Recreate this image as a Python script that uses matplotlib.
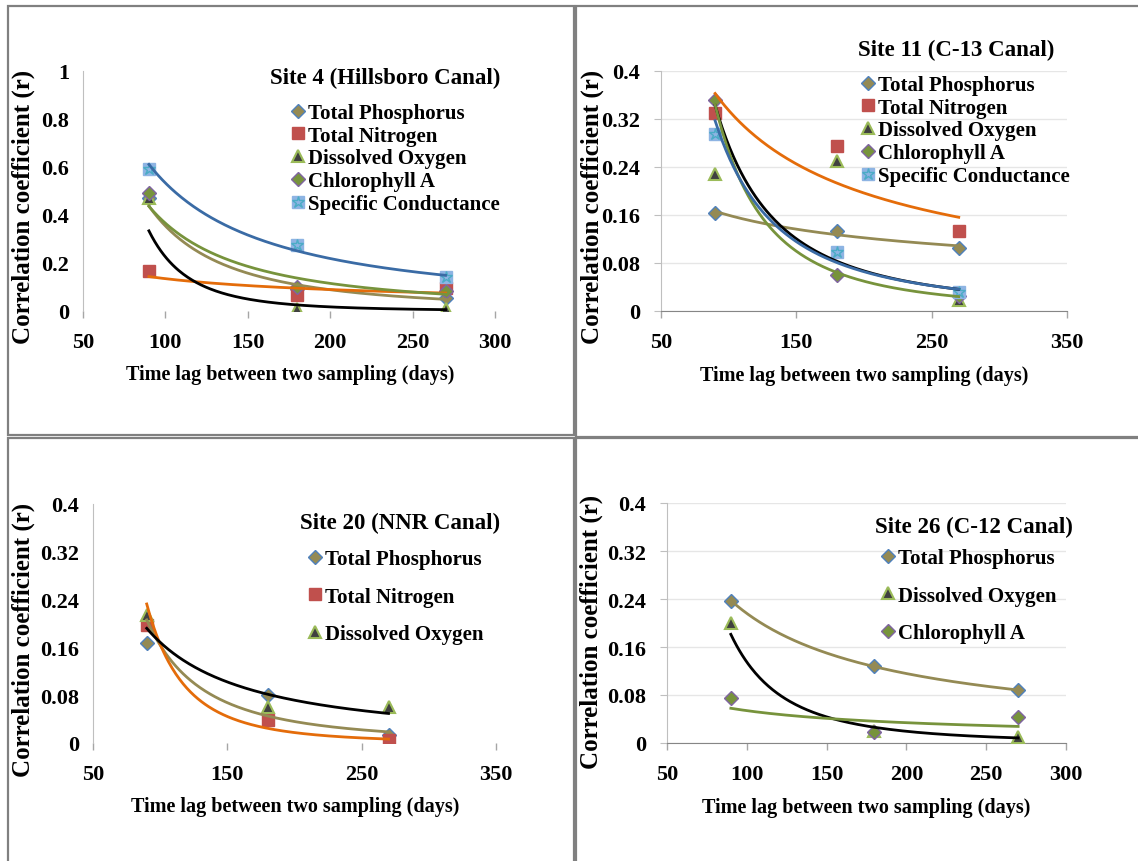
import matplotlib
matplotlib.use('Agg')
import matplotlib.pyplot as plt
import numpy as np
from matplotlib.lines import Line2D
from matplotlib.patches import Rectangle
from matplotlib.ticker import FuncFormatter

plt.rcParams['font.family'] = 'Liberation Serif'
plt.rcParams['font.weight'] = 'bold'
plt.rcParams['axes.labelweight'] = 'bold'

W, H = 1138, 862

# time lag (days)
lags = [90, 180, 270]

# Site 4 (Hillsboro Canal)
s4_tp = [0.47, 0.09, 0.055]
s4_tn = [0.165, 0.065, 0.095]
s4_do = [0.47, 0.01, 0.01]
s4_chl = [0.49, 0.10, 0.085]
s4_sc = [0.59, 0.275, 0.14]

# Site 11 (C-13 Canal)
s11_tp = [0.163, 0.134, 0.105]
s11_tn = [0.33, 0.275, 0.133]
s11_do = [0.228, 0.25, 0.018]
s11_chl = [0.352, 0.06, 0.025]
s11_sc = [0.295, 0.098, 0.032]

# Site 20 (NNR Canal)
s20_tp = [0.167, 0.08, 0.013]
s20_tn = [0.198, 0.038, 0.005]
s20_do = [0.215, 0.06, 0.06]

# Site 26 (C-12 Canal)
s26_tp = [0.237, 0.128, 0.088]
s26_do = [0.20, 0.02, 0.01]
s26_chl = [0.075, 0.018, 0.043]

names = {
    'tp': 'Total Phosphorus',
    'tn': 'Total Nitrogen',
    'do': 'Dissolved Oxygen',
    'chl': 'Chlorophyll A',
    'sc': 'Specific Conductance',
}

marker_style = {
    'tp': dict(marker='D', ms=7, mfc='#948A54', mec='#4F81BD', mew=1),
    'tn': dict(marker='s', ms=8.5, mfc='#C0504D', mec='#C0504D', mew=1),
    'do': dict(marker='^', ms=8.5, mfc='#404040', mec='#9BBB59', mew=1.5),
    'chl': dict(marker='D', ms=7, mfc='#77933C', mec='#8064A2', mew=1),
    'sc': dict(marker='s', ms=9, mfc='#8EB4E3', mec='#8EB4E3', mew=1),
}
trend_color = {
    'tp': '#948A54',
    'tn': '#E46C0A',
    'do': 'black',
    'chl': '#77933C',
    'sc': '#3A6BA5',
}


def px_rect(x0, x1, ytop, ybot):
    return [x0 / W, 1 - ybot / H, (x1 - x0) / W, (ybot - ytop) / H]


def handle(key):
    h = Line2D([], [], linestyle='none', **marker_style[key])
    if key == 'sc':
        star = Line2D([], [], linestyle='none', marker='*', ms=9,
                      mfc='none', mec='#4BACC6', mew=1)
        return (h, star)
    return h


def power_trend(x, y):
    # same as an Excel power trendline: linear fit in log-log space
    b, ln_a = np.polyfit(np.log(x), np.log(y), 1)
    xs = np.linspace(min(x), max(x), 200)
    return xs, np.exp(ln_a) * xs ** b


def draw_panel(rect, series, xlim, xticks, ymax, ystep, grid,
               title, title_xy, leg_xy, leg_space, ylab_xy, xlab_xy):
    ax = fig.add_axes(px_rect(*rect))
    for key, vals in series:
        ax.plot(lags, vals, linestyle='none', zorder=3, **marker_style[key])
        if key == 'sc':
            ax.plot(lags, vals, linestyle='none', marker='*', ms=9,
                    mfc='none', mec='#4BACC6', mew=1, zorder=3)
    for key, vals in series:
        xs, ys = power_trend(lags, vals)
        ax.plot(xs, ys, color=trend_color[key], lw=2, zorder=4)

    ax.set_xlim(*xlim)
    ax.set_xticks(xticks)
    ax.set_ylim(0, ymax)
    ax.set_yticks(np.arange(0, ymax + 1e-9, ystep))
    ax.yaxis.set_major_formatter(FuncFormatter(lambda v, p: f'{v:g}'))
    for s in ['top', 'right']:
        ax.spines[s].set_visible(False)
    ax.spines['left'].set_color('#BFBFBF')
    if grid:
        ax.spines['bottom'].set_color('#868686')
        ax.grid(axis='y', color='#E6E6E6', lw=1)
        ax.set_axisbelow(True)
        ax.tick_params(axis='y', length=5, color='#BFBFBF')
    else:
        ax.spines['bottom'].set_visible(False)
        ax.tick_params(axis='y', length=0)
    ax.tick_params(axis='x', length=5, color='#A6A6A6', width=1)
    ax.tick_params(labelsize=16, pad=10)

    ax.set_ylabel('Correlation coefficient (r)', fontsize=18)
    ax.yaxis.label.set_va('center')
    ax.yaxis.set_label_coords(ylab_xy[0] / W, 1 - ylab_xy[1] / H,
                              transform=fig.transFigure)
    ax.set_xlabel('Time lag between two sampling (days)', fontsize=14.5)
    ax.xaxis.label.set_va('center')
    ax.xaxis.set_label_coords(xlab_xy[0] / W, 1 - xlab_xy[1] / H,
                              transform=fig.transFigure)

    fig.text(title_xy[0] / W, 1 - title_xy[1] / H, title, fontsize=16.5,
             ha='right', va='center')
    keys = [k for k, _ in series]
    ax.legend([handle(k) for k in keys], [names[k] for k in keys],
              loc='upper left', frameon=False, fontsize=15,
              bbox_to_anchor=(leg_xy[0] / W, 1 - leg_xy[1] / H),
              bbox_transform=fig.transFigure, borderpad=0, borderaxespad=0,
              handlelength=0.6, handletextpad=0.15, labelspacing=leg_space)
    return ax


fig = plt.figure(figsize=(W / 100, H / 100), dpi=100)

# panel frames
for x0, y0, x1, y1 in [(8, 7, 574, 436), (576, 7, 1145, 438),
                       (8, 439, 574, 870), (576, 439, 1145, 870)]:
    fig.add_artist(Rectangle((x0 / W, 1 - y1 / H), (x1 - x0) / W, (y1 - y0) / H,
                             transform=fig.transFigure, fill=False,
                             edgecolor='#808080', lw=1.6))

draw_panel((83, 495, 72, 312),
           [('tp', s4_tp), ('tn', s4_tn), ('do', s4_do), ('chl', s4_chl), ('sc', s4_sc)],
           (50, 300), [50, 100, 150, 200, 250, 300], 1.0, 0.2, False,
           'Site 4 (Hillsboro Canal)', (500, 78), (292, 104), 0.13,
           (23, 207), (290, 375))

draw_panel((661, 1067, 72, 312),
           [('tp', s11_tp), ('tn', s11_tn), ('do', s11_do), ('chl', s11_chl), ('sc', s11_sc)],
           (50, 350), [50, 150, 250, 350], 0.4, 0.08, True,
           'Site 11 (C-13 Canal)', (1054, 50), (862, 76), 0.13,
           (592, 207), (864, 376))

draw_panel((93, 496, 505, 744),
           [('tp', s20_tp), ('tn', s20_tn), ('do', s20_do)],
           (50, 350), [50, 150, 250, 350], 0.4, 0.08, False,
           'Site 20 (NNR Canal)', (500, 523), (309, 550), 0.85,
           (23, 640), (295, 807))

draw_panel((667, 1066, 504, 744),
           [('tp', s26_tp), ('do', s26_do), ('chl', s26_chl)],
           (50, 300), [50, 100, 150, 200, 250, 300], 0.4, 0.08, True,
           'Site 26 (C-12 Canal)', (1073, 527), (882, 549), 0.85,
           (591, 632), (866, 808))

fig.savefig('out.png', dpi=100)
